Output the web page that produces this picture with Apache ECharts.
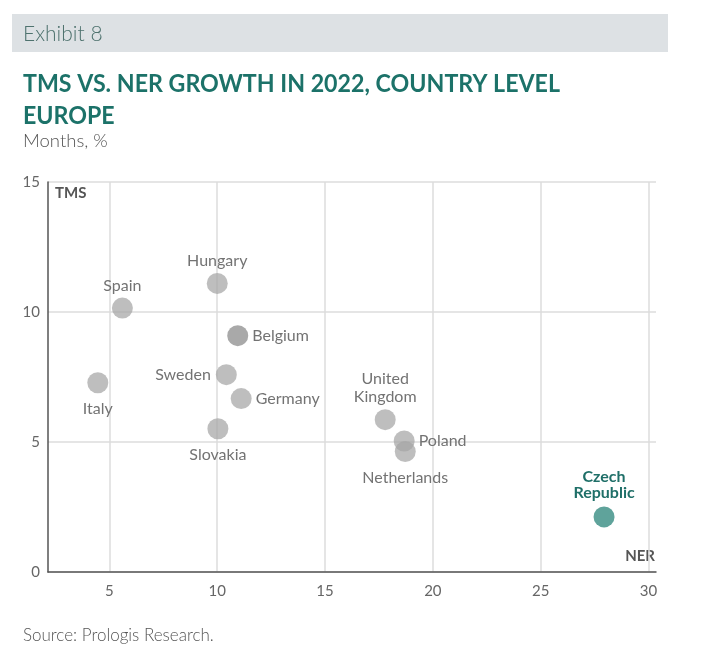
<!DOCTYPE html>
<html><head><meta charset="utf-8">
<script src="https://cdn.jsdelivr.net/npm/echarts@6/dist/echarts.min.js"></script>
<style>html,body{margin:0;padding:0;background:#fff;}#c{width:703px;height:661px;}</style>
</head><body><div id="c"></div>
<script>
const countries = ['Hungary','Spain','Belgium','Sweden','Italy','Germany','Slovakia','United\nKingdom','Poland','Netherlands','Czech\nRepublic'];
const ner = [10.0, 5.6, 10.95, 10.42, 4.46, 11.11, 10.03, 17.79, 18.67, 18.72, 27.94];
const tms = [11.1, 10.15, 9.09, 7.59, 7.28, 6.67, 5.51, 5.86, 5.04, 4.63, 2.12];
const labelPos = ['top','top','right','left','bottom','right','bottom','top','right','bottom','top'];
const xTicks = [5, 10, 15, 20, 25, 30];

const FONT = 'Lato';
const dist = {top: 3, bottom: 7, left: 5, right: 4};
const data = countries.map((c, i) => {
  const hi = c.startsWith('Czech');
  return {
    name: c,
    value: [ner[i], tms[i]],
    itemStyle: hi ? {color: '#5fa39b', opacity: 1} : (c === 'Belgium' ? {color: '#a9a9a9', opacity: 1} : {}),
    label: {
      position: labelPos[i],
      distance: dist[labelPos[i]] + (hi ? 3 : 0),
      color: hi ? '#1f6f68' : '#737373',
      opacity: 1,
      fontWeight: hi ? 'bold' : 'normal',
      lineHeight: hi ? 16 : 18
    }
  };
});

function fitScale(text, font, target) {
  const ctx = document.createElement('canvas').getContext('2d');
  ctx.font = font;
  return target / ctx.measureText(text).width;
}
const titleFont = 'bold 25px ' + FONT;
const t1 = 'TMS VS. NER GROWTH IN 2022, COUNTRY LEVEL';
const s1 = fitScale(t1, titleFont, 537);

const chart = echarts.init(document.getElementById('c'), null, {renderer: 'canvas'});
chart.setOption({
  animation: false,
  graphic: [
    {type: 'rect', shape: {x: 12, y: 14, width: 656, height: 38}, style: {fill: '#dde1e4'}},
    {type: 'text', x: 23, y: 34, style: {text: 'Exhibit 8', font: '300 21px ' + FONT, fill: '#4e726e', verticalAlign: 'middle'}},
    {type: 'text', x: 23, y: 84, scaleX: s1, style: {text: t1, font: titleFont, fill: '#1c7269', verticalAlign: 'middle'}},
    {type: 'text', x: 23, y: 116, scaleX: s1, style: {text: 'EUROPE', font: titleFont, fill: '#1c7269', verticalAlign: 'middle'}},
    {type: 'text', x: 23, y: 141, style: {text: 'Months, %', font: '300 18.5px ' + FONT, fill: '#555', verticalAlign: 'middle'}},
    {type: 'text', x: 23, y: 636, style: {text: 'Source: Prologis Research.', font: '300 17px ' + FONT, fill: '#555', verticalAlign: 'middle'}},
    {type: 'text', x: 55, y: 193, style: {text: 'TMS', font: 'bold 15px ' + FONT, fill: '#555', verticalAlign: 'middle'}},
    {type: 'text', x: 655, y: 556, style: {text: 'NER', font: 'bold 15px ' + FONT, fill: '#555', verticalAlign: 'middle', align: 'right'}}
  ],
  grid: {left: 48, top: 182, right: 47, bottom: 89, containLabel: false},
  xAxis: {
    type: 'value', min: 2.15, max: 30.35,
    axisLine: {show: true, lineStyle: {color: '#555', width: 1.5}},
    axisTick: {show: false, customValues: xTicks},
    axisLabel: {customValues: xTicks, color: '#666', fontFamily: FONT, fontSize: 15, margin: 12},
    splitLine: {show: true, lineStyle: {color: '#dcdcdc', width: 1.5}}
  },
  yAxis: {
    type: 'value', min: 0, max: 15, interval: 5,
    axisLine: {show: true, lineStyle: {color: '#555', width: 1.5}},
    axisTick: {show: false},
    axisLabel: {color: '#666', fontFamily: FONT, fontSize: 15, margin: 8},
    splitLine: {show: true, lineStyle: {color: '#dcdcdc', width: 1.5}}
  },
  series: [{
    type: 'scatter',
    symbolSize: 21,
    itemStyle: {color: '#a5a5a5', opacity: 0.72},
    label: {show: true, formatter: p => p.name, fontFamily: FONT, fontSize: 16},
    data: data
  }]
});
</script></body></html>
